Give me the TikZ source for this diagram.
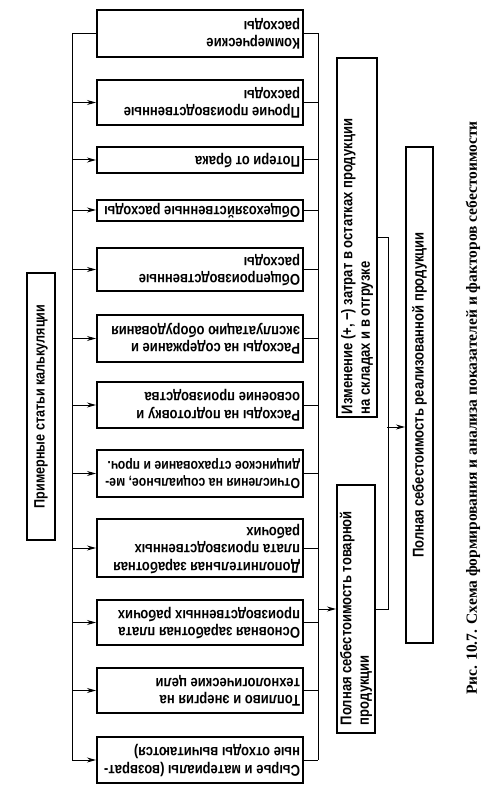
\documentclass[tikz,border=0pt]{standalone}
\usepackage{fontspec}
\usepackage{graphicx}
\setsansfont{Liberation Sans}[FakeStretch=0.84]
\newfontfamily\capserif{Liberation Serif}
\usetikzlibrary{arrows.meta,positioning}

\newcommand{\itemfont}{\sffamily\bfseries\fontsize{15.5}{17.5}\selectfont}
% text of the cost items stands upside down in the scan
\newcommand{\flipped}[1]{\rotatebox{180}{\makebox[200pt][l]{\begin{tabular}{@{}l@{}}#1\end{tabular}}}}
\newcommand{\upward}[2]{\rotatebox{90}{\parbox{#1}{\raggedright #2}}}

\begin{document}
\begin{tikzpicture}[x=1pt,y=-1pt,>=Stealth]
      \tikzset{
        item/.style={draw,line width=2pt,minimum width=206pt,inner sep=0pt,font=\itemfont},
        vbox/.style={draw,line width=2pt,inner sep=0pt,font=\itemfont},
        link/.style={line width=1pt},
        feed/.style={link,-{Stealth[length=9pt,width=5pt]}}
      }
      \useasboundingbox (0,0) rectangle (498,805);

      \node[vbox,minimum width=28pt,minimum height=267pt,
            font=\sffamily\bfseries\fontsize{15}{17}\selectfont] (prim) at (41,406.5)
        {\rotatebox{90}{Примерные статьи калькуляции}};

      % cost items
      \node[item,minimum height=47pt] (kom) at (200,33.5) {\flipped{Коммерческие\\расходы}};
      \node[item,minimum height=45pt] (proch) at (200,102.5) {\flipped{Прочие производственные\\расходы}};
      \node[item,minimum height=26pt] (brak) at (200,160) {\flipped{Потери от брака}};
      \node[item,minimum height=21pt] (obkh) at (200,210) {\flipped{Общехозяйственные расходы}};
      \node[item,minimum height=43pt] (obpr) at (200,269.5) {\flipped{Общепроизводственные\\расходы}};
      \node[item,minimum height=47pt] (obor) at (200,338.5) {\flipped{Расходы на содержание и\\эксплуатацию оборудования}};
      \node[item,minimum height=46pt] (osv) at (200,405) {\flipped{Расходы на подготовку и\\освоение производства}};
      \node[item,minimum height=47pt,font=\sffamily\bfseries\fontsize{14.6}{17.5}\selectfont] (otch) at (200,473.5)
        {\flipped{Отчисления на социальное, ме-\\дицинское страхование и проч.}};
      \node[item,minimum height=58pt] (dop) at (200,548) {\flipped{Дополнительная заработная\\плата производственных\\рабочих}};
      \node[item,minimum height=45pt] (osn) at (200,622.5) {\flipped{Основная заработная плата\\производственных рабочих}};
      \node[item,minimum height=45pt] (topl) at (200,690.5) {\flipped{Топливо и энергия на\\технологические цели}};
      \node[item,minimum height=46pt] (syr) at (200,760) {\flipped{Сырье и материалы (возврат-\\ные отходы вычитаются)}};

      % totals
      \node[vbox,minimum width=40pt,minimum height=359pt] (izm) at (357,237.5)
        {\upward{353pt}{Изменение (+, −) затрат в остатках продукции\\на складах и в отгрузке}};
      \node[vbox,minimum width=38pt,minimum height=248pt] (tov) at (356,609)
        {\upward{232pt}{Полная себестоимость товарной\\продукции}};
      \node[vbox,minimum width=27pt,minimum height=496pt] (real) at (419.5,395)
        {\rotatebox{90}{Полная себестоимость реализованной продукции}};

      \node[rotate=90,font=\capserif\bfseries\fontsize{15.5}{18}\selectfont] (cap) at (473,408)
        {Рис. 10.7. Схема формирования и анализа показателей и факторов себестоимости};

      \coordinate (lbus) at (72,0);
      \coordinate (rbus) at (318,0);
      \coordinate (jt) at (387,427);

      \draw[link] (kom.west) -- (kom.west -| lbus) -- (lbus |- syr.west);
      \foreach \b in {proch,brak,obkh,obpr,obor,osv,otch,dop,osn,topl,syr}{
          \draw[feed] (\b.west -| lbus) -- (\b.west);
        }

      \draw[link] (kom.east -| rbus) -- (syr.east -| rbus);
      \foreach \b in {kom,proch,brak,obkh,obpr,obor,osv,otch,dop,osn,topl,syr}{
          \draw[link] (\b.east) -- (\b.east -| rbus);
        }
      \draw[feed] (tov.west -| rbus) -- (tov.west);

      \draw[link] (izm.east) -- ++(10,0) |- (tov.east);
      \draw[feed] (jt) -- (jt -| real.west);
    \end{tikzpicture}
\end{document}
